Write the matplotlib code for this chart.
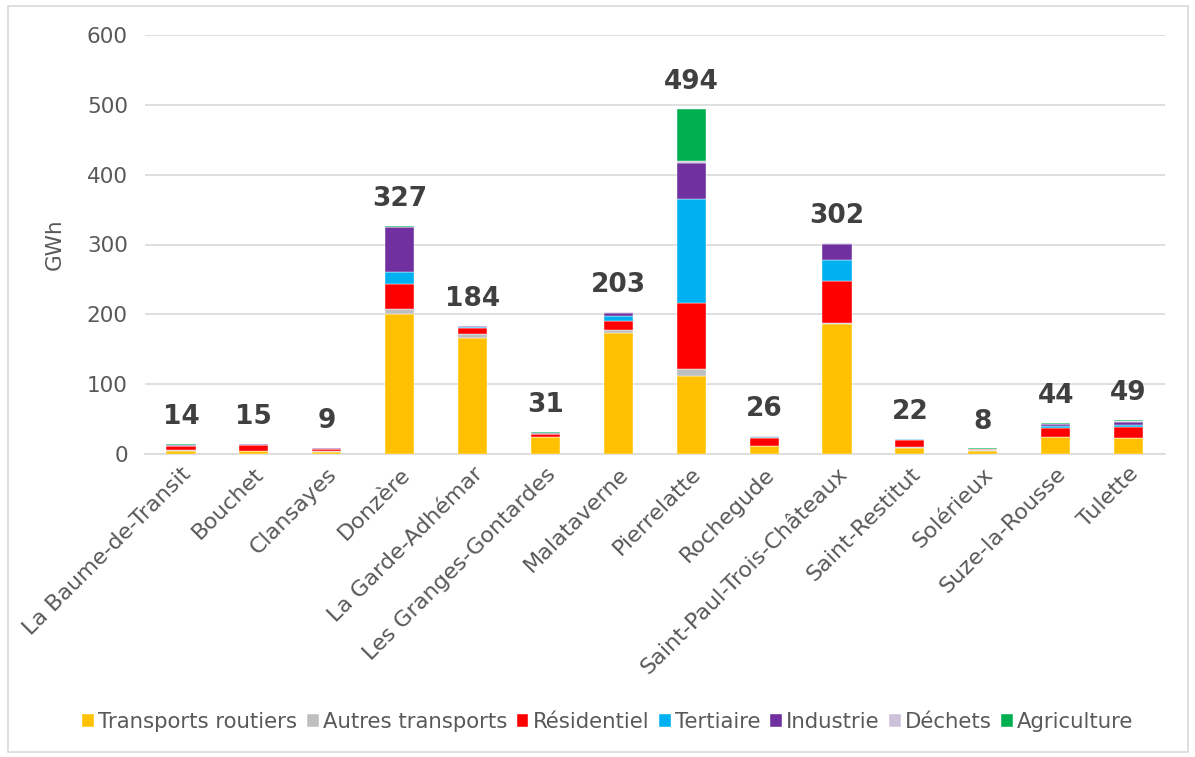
import matplotlib
matplotlib.use("Agg")
import matplotlib.pyplot as plt
import numpy as np
from matplotlib.patches import Rectangle

communes = ["La Baume-de-Transit", "Bouchet", "Clansayes", "Donzère", "La Garde-Adhémar",
            "Les Granges-Gontardes", "Malataverne", "Pierrelatte", "Rochegude",
            "Saint-Paul-Trois-Châteaux", "Saint-Restitut", "Solérieux", "Suze-la-Rousse", "Tulette"]

transports_routiers = [5.0, 4.5, 3.5, 200, 166, 24, 173, 111, 11, 186, 9, 5, 24, 23]
autres_transports   = [0.5, 0.5, 0.3, 8, 6, 1, 5, 11, 0.5, 1, 0.5, 0.3, 0.5, 0.5]
residentiel         = [6.0, 8.0, 3.5, 36, 9, 3, 13, 94, 12, 61, 11, 2, 13, 14.5]
tertiaire           = [0.5, 0.5, 0.3, 17, 1, 0.5, 6, 149, 1, 30, 0.5, 0.2, 3, 3]
industrie           = [0.5, 0.7, 0.5, 64, 1.5, 1.5, 5.5, 51, 0.5, 23, 0.3, 0.2, 2.5, 5]
dechets             = [0.3, 0.2, 0.2, 0.5, 0.3, 0.2, 0.2, 3, 0.2, 0.5, 0.2, 0.1, 0.2, 1]
agriculture         = [1.2, 0.6, 0.7, 1.5, 0.2, 0.8, 0.3, 75, 0.8, 0.5, 0.5, 0.2, 0.8, 2]
totaux = [14, 15, 9, 327, 184, 31, 203, 494, 26, 302, 22, 8, 44, 49]

series = [
    ("Transports routiers", transports_routiers, "#FFC000"),
    ("Autres transports", autres_transports, "#BFBFBF"),
    ("Résidentiel", residentiel, "#FF0000"),
    ("Tertiaire", tertiaire, "#00B0F0"),
    ("Industrie", industrie, "#7030A0"),
    ("Déchets", dechets, "#CCC0DA"),
    ("Agriculture", agriculture, "#00B050"),
]

fig = plt.figure(figsize=(11.95, 7.57), dpi=100)
ax = fig.add_axes([144.5/1195, 1-454/757, (1165-144.5)/1195, (454-35)/757])

x = np.arange(len(communes))
bottom = np.zeros(len(communes))
handles = []
for name, vals, col in series:
    v = np.array(vals, dtype=float)
    b = ax.bar(x, v, 0.4, bottom=bottom, color=col, label=name, zorder=3,
               edgecolor="white", linewidth=0.3)
    handles.append(b)
    bottom += v

for xi, tot, top in zip(x, totaux, bottom):
    ax.annotate(str(tot), (xi, top), xytext=(0, 10), textcoords="offset points",
                ha="center", va="bottom", fontsize=19, fontweight="bold",
                color="#404040", zorder=4)

ax.set_xlim(-0.5, len(communes) - 0.5)
ax.set_ylim(0, 600)
ax.set_yticks(range(0, 601, 100))
ax.yaxis.grid(True, color="#D9D9D9", linewidth=1.2, zorder=0)
ax.set_axisbelow(True)
for s in ["top", "right", "left"]:
    ax.spines[s].set_visible(False)
ax.spines["bottom"].set_color("#D9D9D9")
ax.spines["bottom"].set_linewidth(1.2)
ax.tick_params(axis="y", length=0, labelsize=15.5, labelcolor="#595959", pad=12)
ax.tick_params(axis="x", length=0, labelsize=16, labelcolor="#595959", pad=7)
ax.set_xticks(x)
ax.set_xticklabels(communes, rotation=45, ha="right", rotation_mode="anchor")
ax.set_ylabel("GWh", fontsize=15.5, color="#595959", labelpad=16)

leg = fig.legend(handles=handles, labels=[s[0] for s in series], loc="center",
                 bbox_to_anchor=(608/1195, 1-722/757), ncol=7, frameon=False,
                 fontsize=15.3, handlelength=0.55, handleheight=0.55, handletextpad=0.2,
                 columnspacing=0.45, labelcolor="#595959")

fig.patches.append(Rectangle((8/1195, 5/757), 1180/1195, 746/757, transform=fig.transFigure,
                             fill=False, edgecolor="#D9D9D9", linewidth=1.2))

fig.savefig("out.png", dpi=100)
